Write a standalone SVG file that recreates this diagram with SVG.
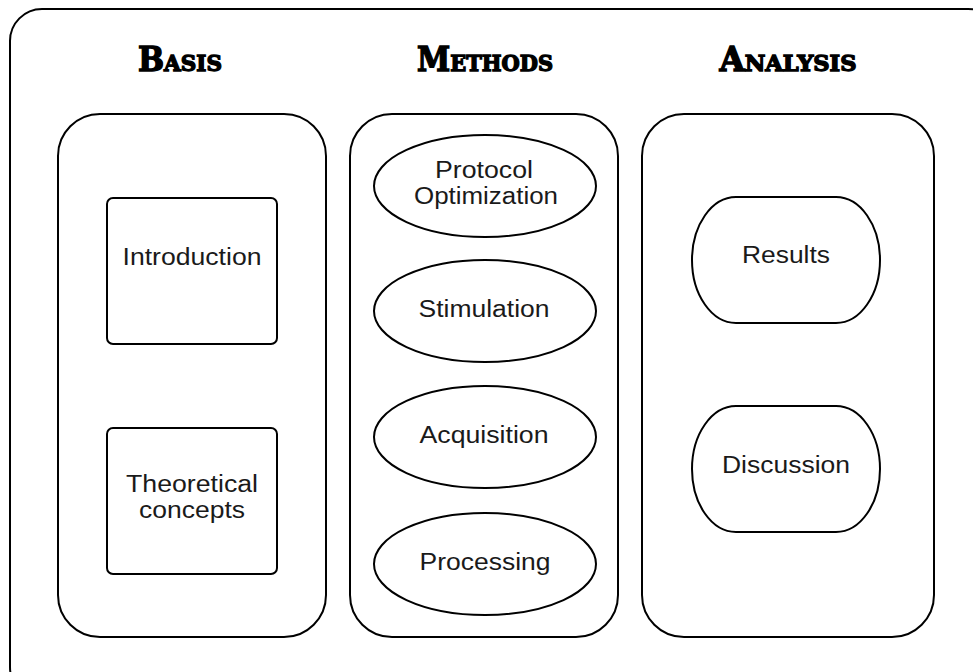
<svg xmlns="http://www.w3.org/2000/svg" width="973" height="672" viewBox="0 0 973 672">
  <style>
    .frame { fill: #ffffff; stroke: #000000; stroke-width: 2; }
    .panel { fill: #ffffff; stroke: #000000; stroke-width: 2; }
    .node { fill: #ffffff; stroke: #000000; stroke-width: 2; }
    .head { font-family: "DejaVu Serif", "Liberation Serif", serif; font-weight: bold; font-stretch: condensed; font-variant: small-caps; font-size: 33px; fill: #000000; stroke: #000000; stroke-width: 1.3; text-anchor: middle; }
    .label { font-family: "Liberation Sans", Arial, sans-serif; font-size: 23px; fill: #1a1a1a; text-anchor: middle; }
  </style>

  <rect width="973" height="672" fill="#ffffff"/>

  <!-- outer frame -->
  <rect class="frame" x="10" y="9" width="990" height="690" rx="32" ry="32"/>

  <!-- column headings -->
  <text class="head" x="180" y="71" textLength="84" lengthAdjust="spacingAndGlyphs">Basis</text>
  <text class="head" x="485" y="71" textLength="136" lengthAdjust="spacingAndGlyphs">Methods</text>
  <text class="head" x="788" y="71" textLength="137" lengthAdjust="spacingAndGlyphs">Analysis</text>

  <!-- column panels -->
  <g id="basis">
    <rect class="panel" x="58" y="114" width="268" height="523" rx="42" ry="42"/>
  </g>
  <g id="methods">
    <rect class="panel" x="350" y="114" width="268" height="523" rx="42" ry="42"/>
  </g>
  <g id="analysis">
    <rect class="panel" x="642" y="114" width="292" height="523" rx="42" ry="42"/>
  </g>

  <!-- basis nodes -->
  <g id="introduction">
    <rect class="node" x="107" y="198" width="170" height="146" rx="6" ry="6"/>
    <text class="label" x="192" y="265" textLength="139" lengthAdjust="spacingAndGlyphs">Introduction</text>
  </g>
  <g id="theoretical-concepts">
    <rect class="node" x="107" y="428" width="170" height="146" rx="6" ry="6"/>
    <text class="label" x="192" y="492" textLength="132" lengthAdjust="spacingAndGlyphs">Theoretical</text>
    <text class="label" x="192" y="518" textLength="106" lengthAdjust="spacingAndGlyphs">concepts</text>
  </g>

  <!-- methods nodes -->
  <g id="protocol-optimization">
    <ellipse class="node" cx="485" cy="186" rx="111" ry="51"/>
    <text class="label" x="484" y="178" textLength="98" lengthAdjust="spacingAndGlyphs">Protocol</text>
    <text class="label" x="486" y="204" textLength="144" lengthAdjust="spacingAndGlyphs">Optimization</text>
  </g>
  <g id="stimulation">
    <ellipse class="node" cx="485" cy="311" rx="111" ry="51"/>
    <text class="label" x="484" y="317" textLength="131" lengthAdjust="spacingAndGlyphs">Stimulation</text>
  </g>
  <g id="acquisition">
    <ellipse class="node" cx="485" cy="437" rx="111" ry="51"/>
    <text class="label" x="484" y="443" textLength="129" lengthAdjust="spacingAndGlyphs">Acquisition</text>
  </g>
  <g id="processing">
    <ellipse class="node" cx="485" cy="564" rx="111" ry="51"/>
    <text class="label" x="485" y="570" textLength="131" lengthAdjust="spacingAndGlyphs">Processing</text>
  </g>

  <!-- analysis nodes -->
  <g id="results">
    <rect class="node" x="692" y="197" width="188" height="126" rx="44" ry="63"/>
    <text class="label" x="786" y="263" textLength="88" lengthAdjust="spacingAndGlyphs">Results</text>
  </g>
  <g id="discussion">
    <rect class="node" x="692" y="406" width="188" height="126" rx="44" ry="63"/>
    <text class="label" x="786" y="473" textLength="128" lengthAdjust="spacingAndGlyphs">Discussion</text>
  </g>

  <!-- no connectors in this layout -->
  <g id="connectors"/>
</svg>
